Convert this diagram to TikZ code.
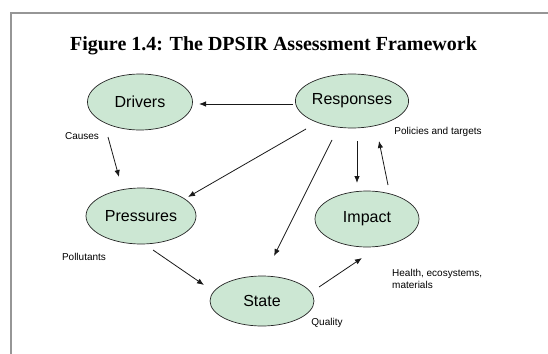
\documentclass[tikz,border=0pt]{standalone}
\usepackage{fontspec}
\setmainfont{Liberation Sans}
\newfontfamily\titlefont{Liberation Serif}
\usetikzlibrary{shapes.geometric,arrows.meta}
\definecolor{ellfill}{RGB}{204,231,211}
\definecolor{framegray}{RGB}{150,150,150}
\tikzset{
  blob/.style={ellipse, draw=black!85, line width=0.7pt, fill=ellfill, inner sep=0pt, font=\fontsize{16}{18}\selectfont},
  lbl/.style={font=\fontsize{10}{12}\selectfont, inner sep=0pt},
  arr/.style={draw=black!90, line width=0.8pt, -{Latex[length=7pt,width=5.5pt]}}
}
\begin{document}
\begin{tikzpicture}[x=1pt,y=-1pt]
\useasboundingbox (0,0) rectangle (548,353);
\draw[framegray, line width=1.2pt] (11,360) -- (11,13) -- (560,13);
\node[font=\titlefont\bfseries\fontsize{20}{24}\selectfont, inner sep=0pt] (title) at (273.5,46) {Figure 1.4: The DPSIR Assessment Framework};

\node[blob, minimum width=105pt, minimum height=56pt] (D) at (140,102) {Drivers};
\node[blob, minimum width=103pt, minimum height=54pt] (R) at (352,101) {Responses};
\node[blob, minimum width=110pt, minimum height=56pt] (P) at (141,216) {Pressures};
\node[blob, minimum width=104pt, minimum height=56pt] (I) at (367,219) {Impact};
\node[blob, minimum width=104pt, minimum height=50pt] (S) at (262,301) {State};

\node[lbl] (causes) at (82,136) {Causes};
\node[lbl] (policies) at (438,132) {Policies and targets};
\node[lbl] (pollutants) at (84,257) {Pollutants};
\node[lbl, anchor=west, align=left] (health) at (392,279) {Health, ecosystems,\\materials};
\node[lbl] (quality) at (327,323) {Quality};

\draw[arr] ([shift={(-59,3)}]R.center) -- ([shift={(59,2)}]D.center);
\draw[arr] ([shift={(-32,35)}]D.center) -- ([shift={(-22,-39)}]P.center);
\draw[arr] ([shift={(-46,28)}]R.center) -- ([shift={(47,-19)}]P.center);
\draw[arr] ([shift={(-20,39)}]R.center) -- ([shift={(12,-45)}]S.center);
\draw[arr] ([shift={(5,40)}]R.center) -- ([shift={(-10,-36)}]I.center);
\draw[arr] ([shift={(21,-34)}]I.center) -- ([shift={(27,40)}]R.center);
\draw[arr] ([shift={(12,34)}]P.center) -- ([shift={(-58,-16)}]S.center);
\draw[arr] ([shift={(57,-14)}]S.center) -- ([shift={(-5,39)}]I.center);
\end{tikzpicture}
\end{document}
